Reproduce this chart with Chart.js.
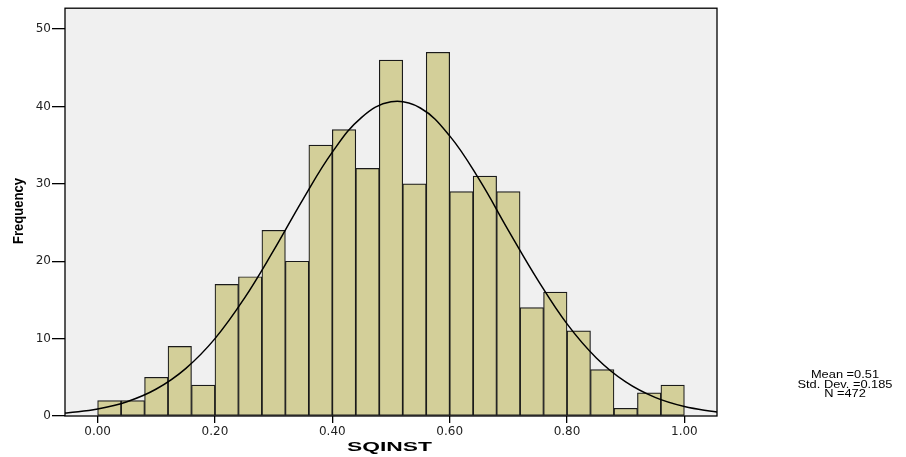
<!DOCTYPE html>
<html>
<head>
<meta charset="utf-8">
<script src="https://cdn.jsdelivr.net/npm/chart.js@4"></script>
<style>
  html, body { margin: 0; padding: 0; background: #ffffff; }
  #wrap { width: 906px; height: 457px; position: relative; }
</style>
</head>
<body>
<div id="wrap"><canvas id="c" width="906" height="457"></canvas></div>
<script>
// ---- data ----
const binCenters = [0.02,0.06,0.10,0.14,0.18,0.22,0.26,0.30,0.34,0.38,0.42,0.46,0.50,0.54,0.58,0.62,0.66,0.70,0.74,0.78,0.82,0.86,0.90,0.94,0.98];
const frequencies = [2,2,5,9,4,17,18,24,20,35,37,32,46,30,47,29,31,29,14,16,11,6,1,3,4];
const curveX = [-0.06,-0.05,0.00,0.05,0.10,0.15,0.20,0.25,0.30,0.35,0.40,0.45,0.50,0.55,0.60,0.65,0.70,0.75,0.80,0.85,0.90,0.95,1.00,1.05,1.06];
const curveY = [0.35,0.42,0.91,1.85,3.49,6.13,10.0,15.2,21.4,28.0,34.1,38.6,40.6,39.8,36.2,30.6,24.0,17.6,11.9,7.5,4.4,2.4,1.22,0.57,0.49];
const xTitle = "SQINST";
const yTitle = "Frequency";
const statLabels = ["Mean =0.51", "Std. Dev. =0.185", "N =472"];

const barData = binCenters.map((x, i) => ({ x: x, y: frequencies[i] }));
const curveData = curveX.map((x, i) => ({ x: x, y: curveY[i] }));

function drawStretched(ctx, text, cx, cy, font, targetW, rotate) {
  ctx.save();
  ctx.font = font;
  const w = ctx.measureText(text).width;
  const s = targetW / w;
  ctx.translate(cx, cy);
  if (rotate) ctx.rotate(-Math.PI / 2);
  ctx.scale(s, 1);
  ctx.textAlign = 'center';
  ctx.textBaseline = 'middle';
  ctx.fillStyle = '#000';
  ctx.fillText(text, 0, 0);
  ctx.restore();
}

const framePlugin = {
  id: 'frame',
  beforeDatasetsDraw(chart) {
    const { ctx, chartArea: a } = chart;
    ctx.save();
    ctx.fillStyle = '#F0F0F0';
    ctx.fillRect(a.left, a.top, a.right - a.left, a.bottom - a.top);
    ctx.restore();
  },
  afterDraw(chart) {
    const { ctx, chartArea: a } = chart;
    ctx.save();
    ctx.strokeStyle = '#000';
    ctx.lineWidth = 1.3;
    ctx.strokeRect(a.left, a.top, a.right - a.left, a.bottom - a.top);
    ctx.restore();
    drawStretched(ctx, xTitle, 389.5, 447.5, 'bold 13px "Liberation Sans"', 85, false);
    drawStretched(ctx, yTitle, 18.5, 211, 'bold 15px "Liberation Sans"', 66, true);
    // stats box
    ctx.save();
    ctx.font = '11px "Liberation Sans"';
    const s = 95 / ctx.measureText(statLabels[1]).width;
    ctx.restore();
    statLabels.forEach((t, i) => {
      ctx.save();
      ctx.font = '11px "Liberation Sans"';
      ctx.translate(845, 375 + i * 9.5);
      ctx.scale(s, 1);
      ctx.textAlign = 'center';
      ctx.textBaseline = 'middle';
      ctx.fillStyle = '#000';
      ctx.fillText(t, 0, 0);
      ctx.restore();
    });
  }
};

new Chart(document.getElementById('c'), {
  type: 'bar',
  data: {
    datasets: [
      {
        type: 'line',
        data: curveData,
        borderColor: '#000',
        borderWidth: 1.5,
        pointRadius: 0,
        fill: false,
        tension: 0.4,
        order: 0
      },
      {
        type: 'bar',
        data: barData,
        backgroundColor: '#D3CF99',
        borderColor: '#1a1a1a',
        borderWidth: 1.2,
        borderSkipped: false,
        barPercentage: 1,
        categoryPercentage: 1,
        order: 1
      }
    ]
  },
  options: {
    responsive: false,
    animation: false,
    devicePixelRatio: 1,
    layout: { padding: { top: 8, right: 189, left: 0, bottom: 0 } },
    plugins: { legend: { display: false }, tooltip: { enabled: false } },
    scales: {
      x: {
        type: 'linear',
        min: -0.0556,
        max: 1.0556,
        offset: false,
        afterFit(s) { s.height = 41; },
        border: { display: false },
        grid: { offset: false, drawOnChartArea: false, drawTicks: true, tickLength: 7, color: '#000', lineWidth: 1.3 },
        ticks: {
          stepSize: 0.2,
          includeBounds: false,
          padding: 2,
          maxRotation: 0,
          color: '#222',
          font: { family: 'DejaVu Sans', size: 12 },
          callback: (v) => Number(v).toFixed(2)
        }
      },
      y: {
        type: 'linear',
        min: 0,
        max: 52.7,
        afterFit(s) { s.width = 65; },
        border: { display: false },
        grid: { offset: false, drawOnChartArea: false, drawTicks: true, tickLength: 13, color: '#000', lineWidth: 1.3 },
        ticks: {
          stepSize: 10,
          includeBounds: false,
          padding: 1,
          color: '#222',
          font: { family: 'DejaVu Sans', size: 12 },
          callback: (v) => String(Math.round(v))
        }
      }
    }
  },
  plugins: [framePlugin]
});
</script>
</body>
</html>
